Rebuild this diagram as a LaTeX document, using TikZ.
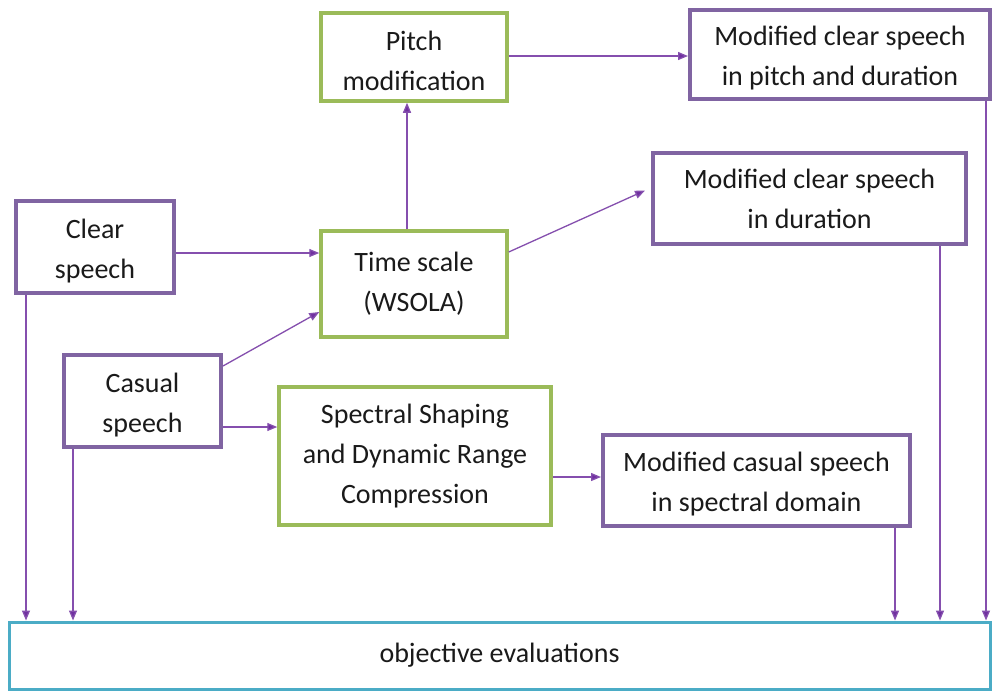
\documentclass[tikz,border=0pt]{standalone}
\usepackage{fontspec}
\setmainfont{Carlito}
\usetikzlibrary{arrows.meta,calc}
\definecolor{bpurple}{HTML}{8064A2}
\definecolor{bgreen}{HTML}{9BBB59}
\definecolor{bteal}{HTML}{4BACC6}
\definecolor{apurple}{HTML}{7030A0}
\definecolor{txt}{HTML}{1A1A1A}
\newcommand{\lowr}{\rule{0pt}{27pt}}
\tikzset{
  box/.style={draw, rectangle, fill=white, align=center, text=txt, inner sep=0pt,
    font=\fontsize{28}{40}\selectfont},
  pbox/.style={box, draw=bpurple, line width=4pt},
  gbox/.style={box, draw=bgreen, line width=3.5pt},
  tbox/.style={box, draw=bteal, line width=3pt},
  conn/.style={draw=apurple!85, line width=1.3pt, -{Triangle[length=10pt,width=8pt,fill=apurple]}},
}
\begin{document}
\begin{tikzpicture}[x=1pt,y=-1pt]
\useasboundingbox (0,0) rectangle (992,691);
\fill[white] (0,0) rectangle (992,691);

\node[pbox, minimum width=158pt, minimum height=92pt] (clear) at (95,247) {\lowr Clear\\speech};
\node[pbox, minimum width=157pt, minimum height=92pt] (casual) at (142.5,401) {\lowr Casual\\speech};
\node[gbox, minimum width=186pt, minimum height=88pt] (pitch) at (414,57) {\lowr Pitch\\modification};
\node[gbox, minimum width=186pt, minimum height=106pt] (time) at (414,284) {Time scale\\(WSOLA)};
\node[gbox, minimum width=272pt, minimum height=138pt] (spec) at (415,456) {Spectral Shaping\\and Dynamic Range\\Compression};
\node[pbox, minimum width=300pt, minimum height=89pt] (modpd) at (840,54.5) {\lowr Modified clear speech\\in pitch and duration};
\node[pbox, minimum width=313pt, minimum height=91pt] (moddur) at (809.5,198.5) {Modified clear speech\\in duration};
\node[pbox, minimum width=307pt, minimum height=91pt] (modcas) at (756.5,480.5) {\lowr Modified casual speech\\in spectral domain};
\node[tbox, minimum width=981pt, minimum height=67pt] (obj) at (499.5,655.5) {objective evaluations};

\draw[conn] ([yshift=-6pt]clear.east) -- ([yshift=-6pt]clear.east -| time.west);
\draw[conn] ([yshift=-13pt]casual.north east) -- ([yshift=-28pt]time.west);
\draw[conn] ([yshift=-26pt]casual.east) -- ([yshift=-26pt]casual.east -| spec.west);
\draw[conn] ([xshift=-7pt]time.north) -- ([xshift=-7pt]pitch.south);
\draw[conn] ([yshift=1pt]pitch.east) -- ([yshift=1pt]pitch.east -| modpd.west);
\draw[conn] ([yshift=32pt]time.east) -- ([xshift=-6pt,yshift=8pt]moddur.west);
\draw[conn] ([yshift=-21pt]spec.east) -- ([yshift=-21pt]spec.east -| modcas.west);

\draw[conn] ([xshift=-69pt]clear.south) -- ([xshift=-69pt]clear.south |- obj.north);
\draw[conn] ([xshift=-69.5pt]casual.south) -- ([xshift=-69.5pt]casual.south |- obj.north);
\draw[conn] ([xshift=138.5pt]modcas.south) -- ([xshift=138.5pt]modcas.south |- obj.north);
\draw[conn] ([xshift=130.5pt]moddur.south) -- ([xshift=130.5pt]moddur.south |- obj.north);
\draw[conn] ([xshift=146pt]modpd.south) -- ([xshift=146pt]modpd.south |- obj.north);
\end{tikzpicture}
\end{document}
